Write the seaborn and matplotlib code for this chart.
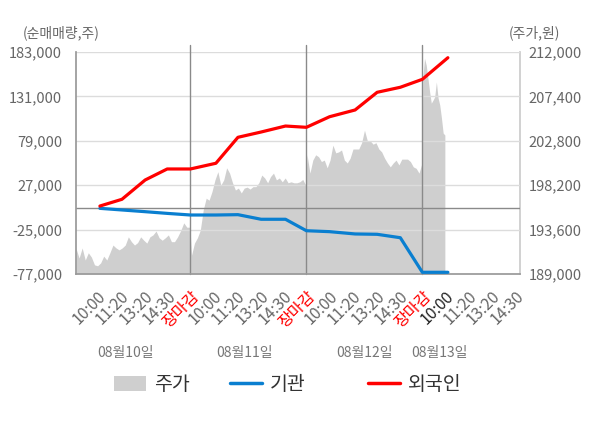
import numpy as np
import pandas as pd
import matplotlib
matplotlib.use('Agg')
import matplotlib.pyplot as plt
from matplotlib.patches import Patch
from matplotlib.lines import Line2D
import seaborn as sns

sns.set_theme(style='white')
plt.rcParams['font.family'] = ['Noto Sans CJK KR', 'DejaVu Sans']
plt.rcParams['axes.unicode_minus'] = False

# 주가 (원) - 일자별 장중 흐름
price_0810 = [191650, 190650, 191700, 190450, 191200, 190750, 189950, 189850, 190150, 190850,
              190450, 191200, 192000, 191700, 191500, 191700, 192000, 192850, 192350, 192000,
              192250, 192850, 192500, 192200, 192850, 193050, 193450, 192750, 192500, 192750,
              193050, 192350, 192350, 192850, 193500, 194300, 193850, 193850]
price_0811 = [190950, 192200, 192750, 193550, 195650, 196850, 196650, 197550, 198750, 199600,
              198200, 198750, 200000, 199450, 198450, 197700, 197900, 197400, 197900, 198000,
              197800, 198050, 198050, 198450, 199250, 198950, 198450, 199100, 199450, 198750,
              198950, 198550, 198950, 198450, 198550, 198450, 198450, 198550, 198800, 198200]
price_0812 = [201350, 199450, 200800, 201350, 201150, 200650, 200800, 200000, 200800, 202350,
              201550, 201650, 201850, 200800, 200500, 201000, 201950, 201950, 201950, 202600,
              203900, 202800, 202800, 202450, 202600, 201950, 201650, 201000, 200500, 200100,
              200500, 200800, 200300, 200900, 200900, 200900, 200650, 200100, 199950, 199450,
              200450]
price_0813 = [209300, 211350, 210650, 209300, 207900, 206700, 207000, 207350, 208900, 207250,
              206500, 205150, 203600, 203400]
day_span = [(0.07, 4.98), (5.05, 9.97), (10.03, 14.98), (15.02, 15.97)]

# 순매매량 (주) - 누적
flow_slot = [1.1, 2.05, 3.05, 4.0, 5.0, 6.1, 7.05, 8.05, 9.1, 10.0,
             11.0, 12.1, 13.05, 14.05, 15.0, 16.1]
inst = [-100, -2000, -4000, -6000, -7900, -7900, -7500, -12900, -12900, -26300,
        -27400, -30100, -30500, -34500, -75000, -75000]
foreign = [2600, 10500, 33100, 46000, 46000, 52700, 83100, 89300, 96300, 94800,
           107200, 115100, 135800, 141700, 151000, 176300]

time_labels = ['10:00', '11:20', '13:20', '14:30', '장마감'] * 3 + ['10:00', '11:20', '13:20', '14:30']
date_labels = ['08월10일', '08월11일', '08월12일', '08월13일']
date_pos = [2.2, 7.35, 12.5, 15.75]

left_ticks = np.arange(-77000, 183001, 52000)
right_ticks = np.arange(189000, 212001, 4600)

px, py = [], []
for vals, (a, b) in zip([price_0810, price_0811, price_0812, price_0813], day_span):
    px.extend(np.linspace(a, b, len(vals)))
    py.extend(vals)
flow = pd.DataFrame({'slot': flow_slot, '기관': inst, '외국인': foreign})

fig = plt.figure(figsize=(6, 4.28), dpi=100)
ax1 = fig.add_axes([0.1267, 0.3598, 0.74, 0.5187])
ax2 = ax1.twinx()
ax1.set_zorder(ax2.get_zorder() + 1)
ax1.patch.set_visible(False)
ax2.patch.set_facecolor('#f4f4f4')

xmin, xmax = 0.07, 19.21
ax2.fill_between(px, py, 189000, color='#cfcfcf', lw=0)
ax2.set_ylim(189000, 212000)
ax2.set_yticks(right_ticks)
ax2.set_yticklabels([f'{v:,}' for v in right_ticks])

for v in left_ticks[1:]:
    ax1.axhline(v, color='#dcdcdc', lw=1, zorder=0.5)
ax1.axhline(0, color='#8a8a8a', lw=1, zorder=0.6)
for s in [5, 10, 15]:
    ax1.axvline(s, ymin=0, ymax=1.03, color='#8a8a8a', lw=1, zorder=0.6, clip_on=False)

sns.lineplot(data=flow, x='slot', y='기관', ax=ax1, color='#0a7fd0', lw=2.3, zorder=3)
sns.lineplot(data=flow, x='slot', y='외국인', ax=ax1, color='#ff0000', lw=2.3, zorder=4)

ax1.set_xlim(xmin, xmax)
ax1.set_ylim(-77000, 183000)
ax1.set_yticks(left_ticks)
ax1.set_yticklabels([f'{v:,}' for v in left_ticks])
ax1.set_xlabel('')
ax1.set_ylabel('')

ax1.set_xticks(np.arange(1, 20))
ax1.set_xticklabels(time_labels, rotation=45, ha='right', va='top', rotation_mode='anchor')
for i, t in enumerate(ax1.get_xticklabels()):
    if t.get_text() == '장마감':
        t.set_color('#ff0000')
    elif i == 15:
        t.set_color('#222222')
    else:
        t.set_color('#666666')
ax1.tick_params(axis='x', length=0, pad=10, labelsize=11.5)
ax1.set_xticks([xmin, 5, 10, 15, xmax], minor=True)
ax1.tick_params(axis='x', which='minor', length=4, color='#999999', direction='out')
ax1.tick_params(axis='y', length=0, labelsize=10.5, labelcolor='#666666', pad=10)
ax2.tick_params(axis='y', length=0, labelsize=10.5, labelcolor='#666666', pad=6)

for sp in ['top', 'right']:
    ax1.spines[sp].set_visible(False)
for sp in ['top', 'left', 'bottom']:
    ax2.spines[sp].set_visible(False)
ax1.spines['left'].set_color('#999999')
ax1.spines['bottom'].set_color('#999999')
ax2.spines['right'].set_color('#cccccc')

fig.text(23 / 600, 1 - 33 / 428, '(순매매량,주)', ha='left', va='center',
         fontsize=10, color='#666666')
fig.text(509 / 600, 1 - 33 / 428, '(주가,원)', ha='left', va='center',
         fontsize=10, color='#666666')
for lab, pos in zip(date_labels, date_pos):
    ax1.text(pos, -0.355, lab, transform=ax1.get_xaxis_transform(), ha='center', va='center',
             fontsize=10, color='#777777')

legend_items = [
    (Patch(facecolor='#cfcfcf', edgecolor='none'), '주가', 114),
    (Line2D([], [], color='#0a7fd0', lw=2.5), '기관', 230),
    (Line2D([], [], color='#ff0000', lw=2.5), '외국인', 368),
]
for h, lab, x0 in legend_items:
    fig.legend([h], [lab], loc='center left', bbox_to_anchor=(x0 / 600, 1 - 385 / 428),
               frameon=False, fontsize=14, handlelength=1.65, handleheight=0.8,
               handletextpad=0.4, borderpad=0, borderaxespad=0, labelcolor='#333333')

fig.savefig('out.png', dpi=100)
